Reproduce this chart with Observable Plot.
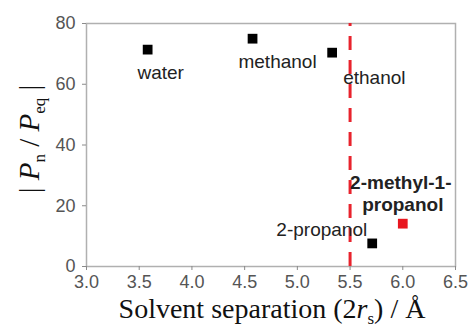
<!DOCTYPE html>
<html><head><meta charset="utf-8">
<script src="https://cdn.jsdelivr.net/npm/d3@7"></script>
<script src="https://cdn.jsdelivr.net/npm/@observablehq/plot@0.6"></script>
<style>body{margin:0;background:#fff}</style>
</head><body><div id="chart"></div>
<script>
const solvents = ["water", "methanol", "ethanol", "2-propanol", "2-methyl-1-propanol"];
const separation = [3.58, 4.575, 5.33, 5.71, 6.0];
const ratio = [71.4, 75.0, 70.4, 7.6, 14.1];
const pointColors = ["black", "black", "black", "black", "#e8161f"];
const xTicks = [3.0, 3.5, 4.0, 4.5, 5.0, 5.5, 6.0, 6.5];
const yTicks = [0, 20, 40, 60, 80];
const threshold = 5.5;

const data = solvents.map((s, i) => ({s, x: separation[i], y: ratio[i], c: pointColors[i]}));
// label lines with offsets (px) relative to each point
const labels = [
  {s: "water", t: "water", dx: 13, dy: 23, anchor: "middle", w: "normal"},
  {s: "methanol", t: "methanol", dx: 25, dy: 23, anchor: "middle", w: "normal"},
  {s: "ethanol", t: "ethanol", dx: 11, dy: 25, anchor: "start", w: "normal"},
  {s: "2-propanol", t: "2-propanol", dx: -5, dy: -14, anchor: "end", w: "normal"},
  {s: "2-methyl-1-propanol", t: "2-methyl-1-", dx: -2, dy: -41, anchor: "middle", w: "bold"},
  {s: "2-methyl-1-propanol", t: "propanol", dx: 0, dy: -19, anchor: "middle", w: "bold"}
].map(l => ({...l, ...(({x, y}) => ({x, y}))(data.find(d => d.s === l.s))}));

const grey = "#8a8a8a";
const plot = Plot.plot({
  width: 468, height: 328,
  marginLeft: 86, marginRight: 13, marginTop: 23, marginBottom: 62,
  style: {fontFamily: "'Liberation Sans', Arial, sans-serif", fontSize: "18px", color: "#444", background: "white"},
  x: {domain: [3.0, 6.5], label: null},
  y: {domain: [0, 80], label: null},
  marks: [
    Plot.frame({stroke: "#b0b0b0", strokeWidth: 1.5}),
    Plot.axisX({ticks: xTicks, tickFormat: d3.format(".1f"), tickSize: 4, tickPadding: 5, stroke: grey, fill: "#555", fontSize: 18, label: null}),
    Plot.axisY({ticks: yTicks, tickSize: 4, tickPadding: 7, stroke: grey, fill: "#555", fontSize: 18, label: null}),
    Plot.ruleX([threshold], {y1: 0, y2: 80, stroke: "#e8232d", strokeWidth: 3, strokeDasharray: "14,10"}),
    Plot.dot(data, {x: "x", y: "y", symbol: "square", r: 5.5, fill: "c", stroke: "none"}),
    ...labels.map(d => Plot.text([d], {x: "x", y: "y", text: "t", dx: d.dx, dy: d.dy,
      textAnchor: d.anchor, fill: "#222", fontSize: 19, fontWeight: d.w}))
  ]
});
const svg = d3.select(plot);
const xl = svg.append("text").attr("x", 272).attr("y", 318).attr("text-anchor", "middle")
  .style("font-family", "'Liberation Serif', 'Times New Roman', serif").style("font-size", "28px").attr("fill", "#111");
xl.append("tspan").text("Solvent separation (2");
xl.append("tspan").attr("font-style", "italic").text("r");
xl.append("tspan").attr("font-size", "17px").attr("dy", 6).text("s");
xl.append("tspan").attr("dy", -6).text(") / Å");
const yl = svg.append("text").attr("transform", "translate(39,139) rotate(-90)").attr("text-anchor", "middle")
  .style("font-family", "'Liberation Serif', 'Times New Roman', serif").style("font-size", "29px").attr("fill", "#111");
yl.append("tspan").text("| ");
yl.append("tspan").attr("font-style", "italic").text("P");
yl.append("tspan").attr("font-size", "17px").attr("dy", 6).text("n");
yl.append("tspan").attr("dy", -6).text(" / ");
yl.append("tspan").attr("font-style", "italic").text("P");
yl.append("tspan").attr("font-size", "17px").attr("dy", 6).text("eq");
yl.append("tspan").attr("dy", -6).text(" |");
document.getElementById("chart").appendChild(plot);
</script>
</body></html>
